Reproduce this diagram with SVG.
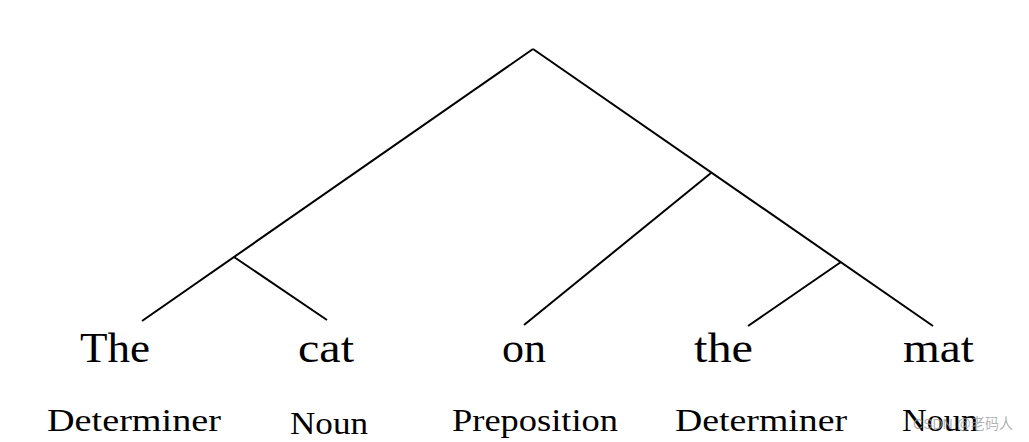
<svg xmlns="http://www.w3.org/2000/svg" width="1029" height="442" viewBox="0 0 1029 442">
<style>
.e{stroke:#000;stroke-width:2;fill:none;stroke-linecap:butt}
.w{font-family:"Liberation Serif","DejaVu Serif",serif;font-size:43px;fill:#000}
.t{font-family:"Liberation Serif","DejaVu Serif",serif;font-size:32px;fill:#000}
.wm{font-family:"Liberation Sans","Noto Sans CJK SC",sans-serif;font-size:15px;fill:#9a9a9a;fill-opacity:0.75}
</style>
<rect width="1029" height="442" fill="#fff"/>
<g id="connectors">
<line class="e" x1="533" y1="49" x2="142" y2="321"/>
<line class="e" x1="234" y1="257" x2="327" y2="320"/>
<line class="e" x1="533" y1="49" x2="933" y2="326"/>
<line class="e" x1="711" y1="173" x2="524" y2="325"/>
<line class="e" x1="841" y1="262" x2="748" y2="326"/>
</g>
<g id="the1"><text class="w" x="80" y="362" textLength="70" lengthAdjust="spacingAndGlyphs">The</text><text class="t" x="47" y="431" textLength="174" lengthAdjust="spacingAndGlyphs">Determiner</text></g>
<g id="cat"><text class="w" x="298" y="362" textLength="56" lengthAdjust="spacingAndGlyphs">cat</text><text class="t" x="290" y="434" textLength="78" lengthAdjust="spacingAndGlyphs">Noun</text></g>
<g id="on"><text class="w" x="502" y="362" textLength="44" lengthAdjust="spacingAndGlyphs">on</text><text class="t" x="452" y="431" textLength="166" lengthAdjust="spacingAndGlyphs">Preposition</text></g>
<g id="the2"><text class="w" x="694" y="362" textLength="59" lengthAdjust="spacingAndGlyphs">the</text><text class="t" x="675" y="431" textLength="172" lengthAdjust="spacingAndGlyphs">Determiner</text></g>
<g id="mat"><text class="w" x="903" y="362" textLength="71" lengthAdjust="spacingAndGlyphs">mat</text><text class="t" x="902" y="431" textLength="76" lengthAdjust="spacingAndGlyphs">Noun</text></g>
<text class="wm" x="913" y="429" textLength="100" lengthAdjust="spacingAndGlyphs">CSDN @老码人</text>
</svg>
